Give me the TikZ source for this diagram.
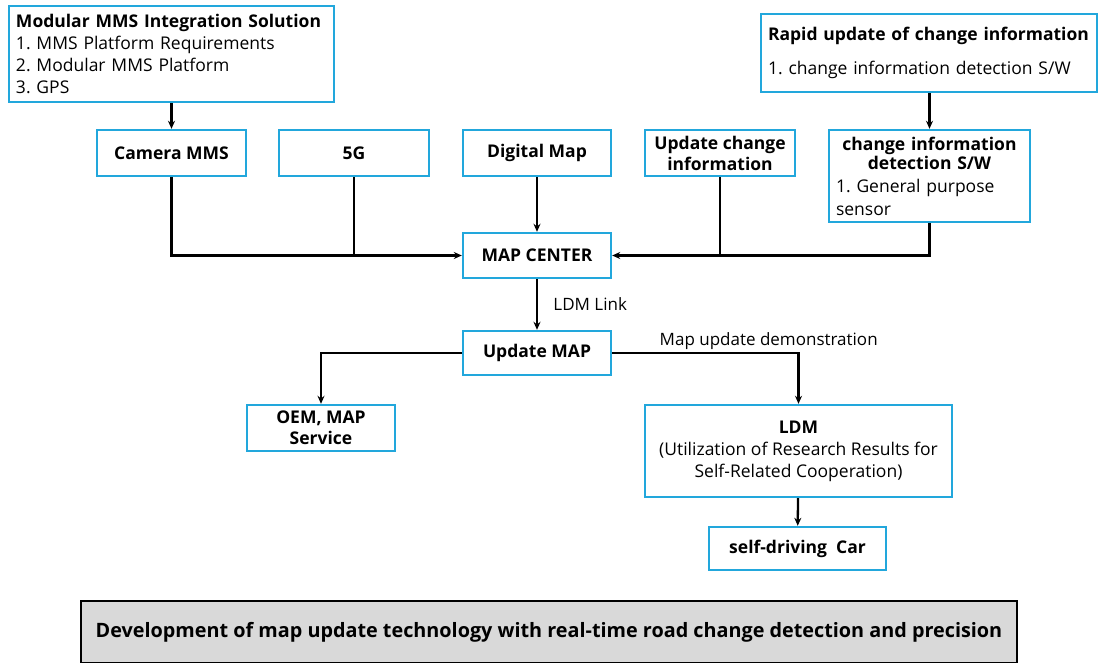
\documentclass[tikz,border=0pt]{standalone}
\usepackage{fontspec}
\setmainfont{Open Sans}
\usetikzlibrary{arrows.meta}
\definecolor{boxline}{HTML}{22A7DC}
\definecolor{barfill}{HTML}{D9D9D9}
\frenchspacing

\begin{document}
\begin{tikzpicture}[
    x=1pt,y=-1pt,
    >={Stealth[length=8pt,width=7pt]},
    every node/.style={font=\fontsize{17}{21}\selectfont},
    blockbox/.style={
        draw=boxline,
        line width=2.4pt,
        fill=white,
        align=center,
        inner sep=2pt,
        minimum height=46,
        font=\fontsize{17.5}{21}\selectfont\bfseries,
    },
    notebox/.style={
        draw=boxline,
        line width=2.4pt,
        fill=white,
        align=left,
        inner xsep=7pt,
        inner ysep=3pt,
    },
    link/.style={->,line width=2.3pt},
    joint/.style={-,line width=2.3pt},
]
\useasboundingbox (0,0) rectangle (1098,663);

% === Top notes ===
\node[notebox,minimum width=325,minimum height=96,text width=311,
      font=\fontsize{17.5}{22}\selectfont] (modular) at (171.5,54)
    {\textbf{Modular MMS Integration Solution}\\
     1. MMS Platform Requirements\\
     2. Modular MMS Platform\\
     3. GPS};
\node[notebox,minimum width=336,minimum height=78,text width=322,
      font=\fontsize{17.5}{34}\selectfont] (rapid) at (929,53)
    {\textbf{Rapid update of change information}\\
     1. change information detection S/W};

% === Source row ===
\node[blockbox,minimum width=149] (camera) at (171.5,153) {Camera MMS};
\node[blockbox,minimum width=150] (fiveg) at (354,153) {5G};
\node[blockbox,minimum width=148] (digmap) at (537,153) {Digital Map};
\node[blockbox,minimum width=150] (updchange) at (720,153) {Update change\\information};
\node[notebox,minimum width=201,minimum height=92,text width=187,
      font=\fontsize{17.5}{23}\selectfont] (detect) at (929.5,176)
    {{\centering\bfseries\fontsize{17.5}{19}\selectfont change information\\detection S/W\par}
     1. General purpose\\sensor};

\draw[link] (modular.south -| camera.north) -- (camera.north);
\draw[link] (rapid.south -| detect.north) -- (detect.north);

% === Map center ===
\node[blockbox,minimum width=148,minimum height=45] (mapcenter) at (537,255.5) {MAP CENTER};

\draw[link] (camera.south) |- (mapcenter.west);
\draw[joint] (fiveg.south) -- (fiveg.south |- mapcenter.west);
\draw[link] (digmap.south) -- (mapcenter.north);
\draw[link] (detect.south) |- (mapcenter.east);
\draw[joint] (updchange.south) -- (updchange.south |- mapcenter.east);

% === Update map and outputs ===
\node[blockbox,minimum width=148,minimum height=44] (updmap) at (537,353) {Update MAP};
\node[blockbox,minimum width=148] (oem) at (321,428) {OEM, MAP\\Service};
\node[blockbox,minimum width=307,minimum height=92,
      font=\fontsize{17.5}{22}\selectfont] (ldm) at (798.5,451)
    {\textbf{LDM}\\(Utilization of Research Results for\\Self-Related Cooperation)};
\node[blockbox,minimum width=177,minimum height=43] (car) at (797.5,548.5) {self-driving~~Car};

\draw[link] (mapcenter) -- node[right=12pt] {LDM Link} (updmap);
\draw[link] (updmap.west) -| (oem.north);
\draw[link] (updmap.east) -| node[pos=0.42,above=-1pt] {Map update demonstration} (ldm.north);
\draw[link] (ldm) -- (car);

% === Bottom banner ===
\node[draw=black,line width=1.6pt,fill=barfill,minimum width=936,minimum height=62,
      font=\fontsize{19.8}{23}\selectfont\bfseries] (banner) at (549,632)
    {Development of map update technology with real-time road change detection and precision};

\end{tikzpicture}
\end{document}
